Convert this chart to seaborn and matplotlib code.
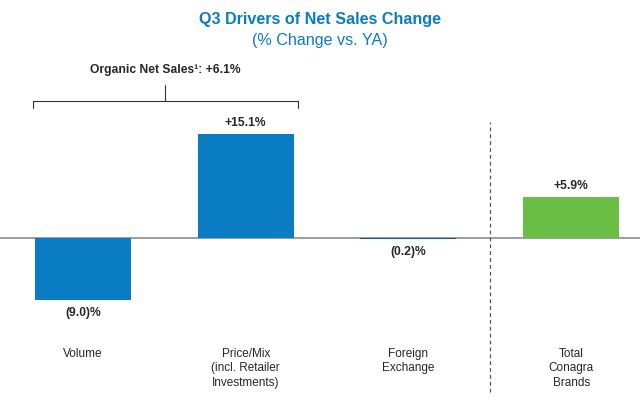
import matplotlib
matplotlib.use("Agg")
import matplotlib.pyplot as plt
import seaborn as sns
import pandas as pd

categories = ["Volume", "Price/Mix\n(incl. Retailer\nInvestments)", "Foreign\nExchange", "Total\nConagra\nBrands"]
values = [-9.0, 15.1, -0.2, 5.9]
value_labels = ["(9.0)%", "+15.1%", "(0.2)%", "+5.9%"]
bar_colors = ["#0a7cc4", "#0a7cc4", "#0a5c94", "#6abd45"]

sns.set_style("white")
plt.rcParams["font.family"] = ["Liberation Sans", "DejaVu Sans"]

df = pd.DataFrame({"cat": categories, "val": values})

fig = plt.figure(figsize=(6.4, 4.07), dpi=100)
ax = fig.add_axes([0, 0, 1, 1])
sns.barplot(data=df, x="cat", y="val", hue="cat", palette=bar_colors,
            width=0.59, legend=False, ax=ax, saturation=1, zorder=3,
            linewidth=0, edgecolor="none")

# map data coordinates onto the slide layout
ax.set_xlim(-0.51, 3.423)
ax.set_ylim(-24.5, 34.5)
ax.axis("off")

ax.axhline(0, color="#8c8c8c", lw=1.2, zorder=1)
ax.axvline(2.5, ymin=(-22.3 + 24.5) / 59, ymax=(16.8 + 24.5) / 59,
           color="#555555", lw=0.9, ls=(0, (3, 2.5)))

for i, (v, lab) in enumerate(zip(values, value_labels)):
    if v >= 0:
        ax.text(i, v + 0.75, lab, ha="center", va="bottom", fontsize=8.7, fontweight="bold")
    else:
        ax.text(i, v - 1.0, lab, ha="center", va="top", fontsize=8.7, fontweight="bold")

for i, c in enumerate(categories):
    ax.text(i, -15.9, c, ha="center", va="top", fontsize=8.5, linespacing=1.3)

# bracket over organic drivers
yb = 19.8
ax.plot([-0.31, -0.31, 1.32, 1.32], [yb - 0.9, yb, yb, yb - 0.9], color="#333333", lw=0.8)
ax.plot([0.505, 0.505], [yb, yb + 2.4], color="#333333", lw=0.8)
ax.text(0.505, 24.3, "Organic Net Sales\u00b9: +6.1%", ha="center", va="center",
        fontsize=8.7, fontweight="bold")

fig.text(0.5, 0.953, "Q3 Drivers of Net Sales Change", ha="center", va="center",
         fontsize=11.6, fontweight="bold", color="#0a7cc4")
fig.text(0.5, 0.900, "(% Change vs. YA)", ha="center", va="center",
         fontsize=11.6, color="#0a7cc4")

fig.savefig("out.png", dpi=100)
